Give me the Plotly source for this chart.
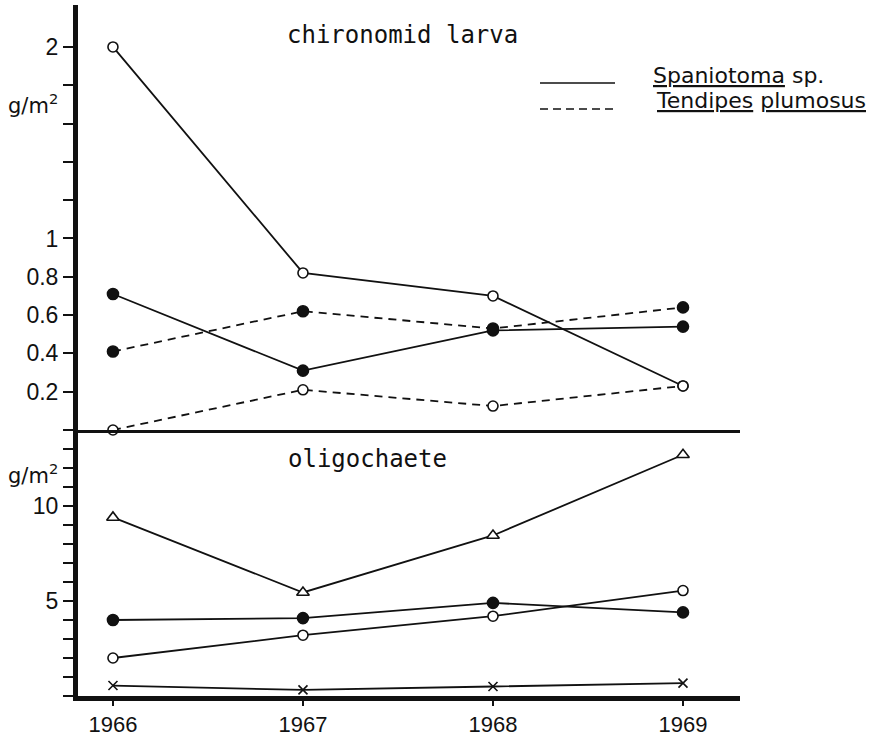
import plotly.graph_objects as go

# ---- data ----
years = [1966, 1967, 1968, 1969]
year_labels = ["1966", "1967", "1968", "1969"]

# chironomid larva (g/m2)
spaniotoma_open = [2.0, 0.82, 0.70, 0.23]
spaniotoma_filled = [0.71, 0.31, 0.52, 0.54]
tendipes_filled = [0.41, 0.62, 0.53, 0.64]
tendipes_open = [0.0, 0.21, 0.125, 0.23]

# oligochaete (g/m2)
oligo_triangle = [9.4, 5.45, 8.45, 12.7]
oligo_filled = [4.0, 4.1, 4.9, 4.4]
oligo_open = [2.0, 3.2, 4.2, 5.55]
oligo_cross = [0.55, 0.32, 0.5, 0.68]

upper_tickvals = [0.2, 0.4, 0.6, 0.8, 1.0, 2.0]
upper_ticktext = ["0.2", "0.4", "0.6", "0.8", "1", "2"]
upper_minor = [0, 1.2, 1.4, 1.6, 1.8]
lower_tickvals = [5, 10]
lower_ticktext = ["5", "10"]
lower_minor = [0, 1, 2, 3, 4, 6, 7, 8, 9, 11, 12, 13]

INK = "#111111"
LW = 1.8
TICKFONT = dict(family="Liberation Sans, Arial, sans-serif", size=23, color=INK)
XTICKFONT = dict(family="Liberation Sans, Arial, sans-serif", size=22, color=INK)
TITLEFONT = dict(family="DejaVu Sans Mono, monospace", size=24, color=INK)

fig = go.Figure()

def add(y, xa, ya, symbol, fill, dash, size=10):
    fig.add_trace(go.Scatter(
        x=years, y=y, xaxis=xa, yaxis=ya, mode="lines+markers",
        line=dict(color=INK, width=LW, dash=dash),
        marker=dict(symbol=symbol, size=size, color=fill,
                    line=dict(color=INK, width=1.6)),
        cliponaxis=False, showlegend=False, hoverinfo="skip"))

# upper panel
add(spaniotoma_open, "x2", "y", "circle", "white", "solid", 10)
add(spaniotoma_filled, "x2", "y", "circle", INK, "solid", 11)
add(tendipes_filled, "x2", "y", "circle", INK, "8px,6px", 11)
add(tendipes_open, "x2", "y", "circle", "white", "8px,6px", 10)

# lower panel
add(oligo_triangle, "x", "y2", "triangle-up", "white", "solid", 11)
add(oligo_filled, "x", "y2", "circle", INK, "solid", 11)
add(oligo_open, "x", "y2", "circle", "white", "solid", 10)
add(oligo_cross, "x", "y2", "x-thin", INK, "solid", 9)

L, R, T, B = 78, 146, 5, 42
W, H = 886, 738
PW, PH = W - L - R, H - T - B


def px(xp):
    return (xp - L) / PW


def py(yp):
    return (H - B - yp) / PH


MINOR_Y = dict(tickmode="array", ticks="outside", ticklen=10, tickwidth=2,
               tickcolor=INK, showgrid=False)

fig.update_layout(
    width=W, height=H,
    margin=dict(l=L, r=R, t=T, b=B, autoexpand=False),
    paper_bgcolor="white", plot_bgcolor="white",
    xaxis=dict(domain=[0, 1], anchor="y2", range=[1965.816, 1969.3],
               tickmode="array", tickvals=years, ticktext=year_labels,
               ticks="outside", ticklen=5, tickwidth=2, tickcolor=INK,
               showline=True, linewidth=5, linecolor=INK,
               showgrid=False, zeroline=False, tickfont=XTICKFONT,
               automargin=False),
    xaxis2=dict(domain=[0, 1], anchor="y", matches="x",
                tickmode="array", tickvals=[],
                showticklabels=False, ticks="", showline=True,
                linewidth=2.5, linecolor=INK, showgrid=False,
                zeroline=False),
    yaxis=dict(domain=[py(430), 1], anchor="x2", range=[0, 2.219],
               tickmode="array", tickvals=upper_tickvals,
               ticktext=upper_ticktext,
               minor=dict(tickvals=upper_minor, **MINOR_Y),
               ticks="outside", ticklen=10, tickwidth=2, tickcolor=INK,
               showline=True, linewidth=5, linecolor=INK,
               showgrid=False, zeroline=False, tickfont=TICKFONT,
               automargin=False),
    yaxis2=dict(domain=[0, py(431)], anchor="x", range=[0, 13.95],
                tickmode="array", tickvals=lower_tickvals,
                ticktext=lower_ticktext,
                minor=dict(tickvals=lower_minor, **MINOR_Y),
                ticks="outside", ticklen=10, tickwidth=2, tickcolor=INK,
                showline=True, linewidth=5, linecolor=INK,
                showgrid=False, zeroline=False, tickfont=TICKFONT,
                automargin=False),
)

ann = []
def text(s, xp, yp, font, xanchor="left"):
    ann.append(dict(text=s, x=px(xp), y=py(yp), xref="paper", yref="paper",
                    xanchor=xanchor, yanchor="middle", showarrow=False,
                    font=font))

text("chironomid larva", 285, 35, TITLEFONT)
text("oligochaete", 286, 459, TITLEFONT)
gfont = dict(family="DejaVu Sans, sans-serif", size=21, color=INK)
text("g/m<sup>2</sup>", 6, 104, gfont)
text("g/m<sup>2</sup>", 6, 474, gfont)
legfont = dict(family="DejaVu Sans, sans-serif", size=22, color=INK)
text("<u>Spaniotoma</u> sp.", 651, 75, legfont)
text("<u>Tendipes</u> <u>plumosus</u>", 654, 100, legfont)
fig.update_layout(annotations=ann)

fig.add_shape(type="line", xref="paper", yref="paper",
              x0=px(540), x1=px(615), y0=py(83), y1=py(83),
              line=dict(color=INK, width=1.6))
fig.add_shape(type="line", xref="paper", yref="paper",
              x0=px(540), x1=px(615), y0=py(109), y1=py(109),
              line=dict(color=INK, width=1.6, dash="8px,5px"))

fig.write_html("out.html",
               config={"displayModeBar": False},
               post_script="document.documentElement.style.margin='0';"
                           "document.body.style.margin='0';"
                           "document.body.style.overflow='hidden';")
